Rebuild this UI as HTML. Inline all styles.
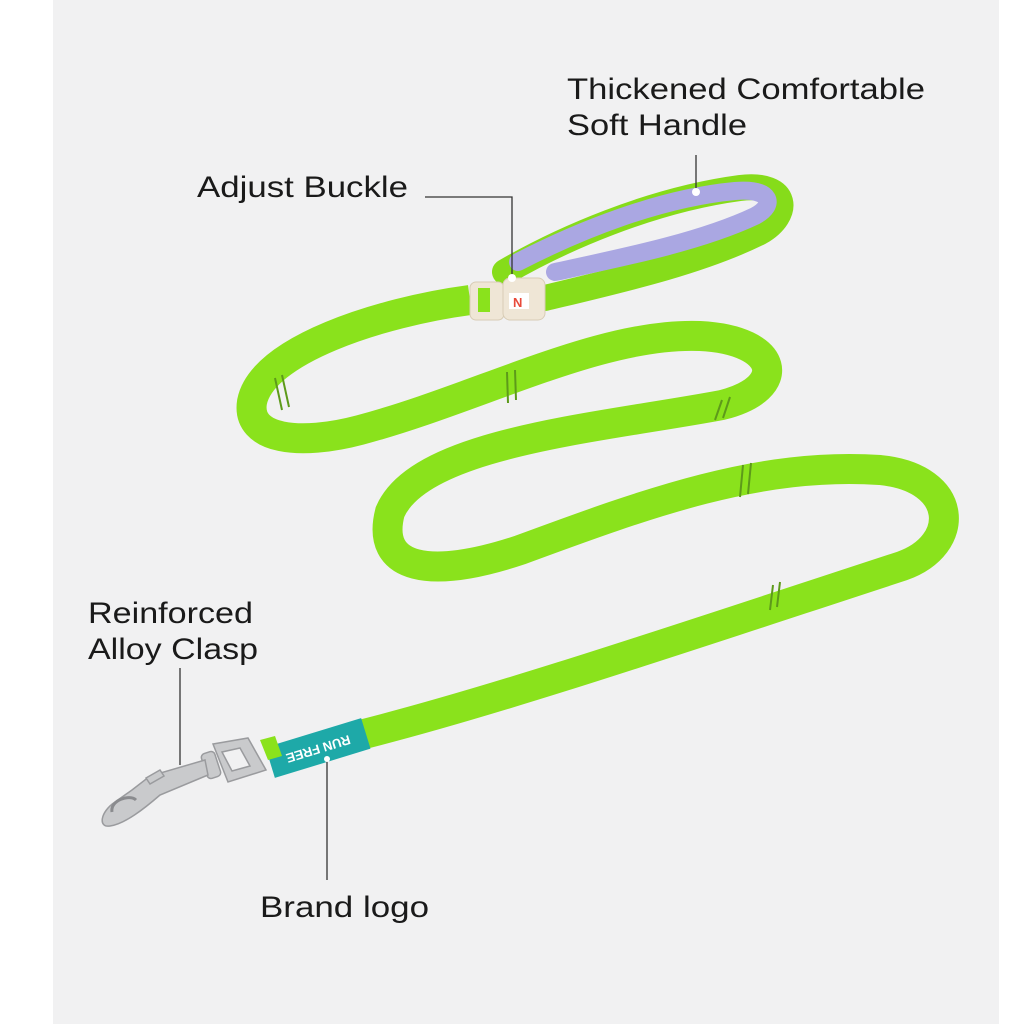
<!DOCTYPE html>
<html><head><meta charset="utf-8"><style>
html,body{margin:0;padding:0;background:#fff;}
svg{display:block;}
text{font-family:"Liberation Sans",sans-serif;fill:#1a1a1a;}
</style></head><body>
<svg width="1024" height="1024" viewBox="0 0 1024 1024" xmlns="http://www.w3.org/2000/svg">
<rect x="0" y="0" width="1024" height="1024" fill="#fff"/>
<rect x="53" y="0" width="946" height="1024" fill="#f1f1f2"/>

<!-- handle loop -->
<path d="M505 272 C560 240, 650 200, 740 188 C790 182, 790 215, 760 232 C700 262, 620 280, 545 298" fill="none" stroke="#86dc1a" stroke-width="26" stroke-linecap="round"/>
<path d="M518 262 C580 230, 660 198, 735 191 C772 188, 776 205, 755 216 C700 242, 620 258, 555 272" fill="none" stroke="#aaa7e2" stroke-width="18" stroke-linecap="round"/>

<!-- main leash -->
<path d="M470 300 C380 312, 262 350, 252 402 C246 440, 300 446, 360 430 C480 398, 600 332, 700 336 C780 340, 790 388, 722 405 C600 428, 420 442, 390 512 C375 570, 430 580, 520 550 C650 502, 760 462, 880 470 C960 478, 962 545, 902 566 C700 632, 500 700, 360 735" fill="none" stroke="#8ae21c" stroke-width="30" stroke-linecap="butt"/>
<!-- stitches -->
<g stroke="#5d9a1a" stroke-width="2">
<line x1="275" y1="378" x2="282" y2="410"/><line x1="282" y1="375" x2="289" y2="407"/>
<line x1="507" y1="372" x2="508" y2="403"/><line x1="515" y1="370" x2="516" y2="400"/>
<line x1="722" y1="400" x2="715" y2="420"/><line x1="730" y1="397" x2="723" y2="418"/>
<line x1="743" y1="465" x2="740" y2="497"/><line x1="751" y1="463" x2="748" y2="494"/>
<line x1="773" y1="585" x2="770" y2="610"/><line x1="780" y1="582" x2="777" y2="607"/>
</g>

<!-- buckle -->
<rect x="470" y="282" width="34" height="38" rx="6" fill="#efe6d6" stroke="#d8ccb5"/>
<rect x="478" y="288" width="12" height="24" fill="#8ae21c"/>
<rect x="503" y="278" width="42" height="42" rx="7" fill="#efe6d6" stroke="#d8ccb5"/>
<rect x="509" y="293" width="20" height="16" fill="#fff"/>
<text x="513" y="307" font-size="13" style="fill:#e84a3a" font-weight="bold">N</text>

<!-- brand label -->
<g transform="translate(318,748) rotate(-17)">
<rect x="-50" y="-16" width="100" height="32" fill="#1ea9a8"/>
<text x="0" y="0" font-size="13" font-weight="bold" style="fill:#fff" text-anchor="middle" dominant-baseline="middle" transform="rotate(180)">RUN FREE</text>
</g>
<path d="M268 760 L260 740 L275 736 L282 756 Z" fill="#8ae21c"/>

<!-- clasp -->
<g fill="#c9cacc" stroke="#9a9b9e" stroke-width="1.5">
<path d="M213 744 L248 738 L266 770 L228 782 Z"/>
<path d="M222 752 L240 748 L250 766 L232 771 Z" fill="#f1f1f2"/>
<rect x="204" y="752" width="14" height="26" rx="4" transform="rotate(-18 211 765)"/>
<path d="M205 760 L150 776 L132 790 L115 802 C100 812, 98 828, 110 826 C125 824, 145 808, 160 795 L208 775 Z"/>
<path d="M146 778 L160 770 L164 776 L150 784 Z"/>
<path d="M112 812 C110 800, 130 794, 136 800" fill="none" stroke="#8a8b8e" stroke-width="3"/>
</g>

<!-- connectors -->
<g stroke="#333" stroke-width="1.3" fill="none">
<polyline points="425,197 512,197 512,278"/>
<line x1="696" y1="155" x2="696" y2="190"/>
<line x1="180" y1="668" x2="180" y2="765"/>
<line x1="327" y1="760" x2="327" y2="880"/>
</g>
<circle cx="512" cy="278" r="4" fill="#fff"/>
<circle cx="696" cy="192" r="4" fill="#fff"/>
<circle cx="327" cy="759" r="3" fill="#fff"/>

<!-- labels -->
<text x="567" y="99" font-size="30" textLength="358" lengthAdjust="spacingAndGlyphs">Thickened Comfortable</text>
<text x="567" y="135" font-size="30" textLength="180" lengthAdjust="spacingAndGlyphs">Soft Handle</text>
<text x="197" y="197" font-size="30" textLength="211" lengthAdjust="spacingAndGlyphs">Adjust Buckle</text>
<text x="88" y="623" font-size="30" textLength="165" lengthAdjust="spacingAndGlyphs">Reinforced</text>
<text x="88" y="659" font-size="30" textLength="170" lengthAdjust="spacingAndGlyphs">Alloy Clasp</text>
<text x="260" y="917" font-size="30" textLength="169" lengthAdjust="spacingAndGlyphs">Brand logo</text>
</svg>
</body></html>
